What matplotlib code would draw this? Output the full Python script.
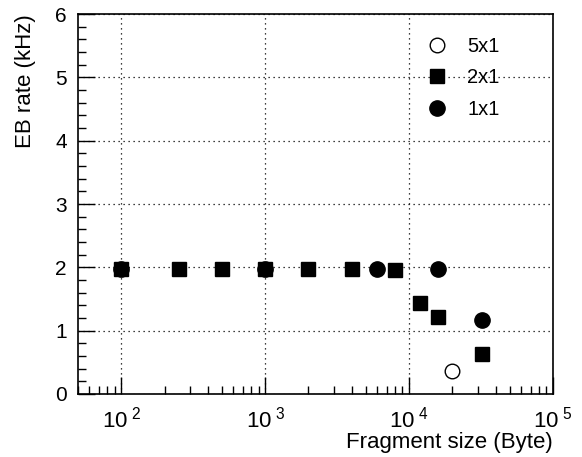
import matplotlib.pyplot as plt
import numpy as np
from matplotlib.ticker import LogLocator, MultipleLocator, NullFormatter

plt.rcParams['font.family'] = ['Liberation Sans', 'DejaVu Sans']
plt.rcParams['mathtext.fontset'] = 'custom'
plt.rcParams['mathtext.rm'] = 'Liberation Sans'
plt.rcParams['mathtext.it'] = 'Liberation Sans'

# fragment size (Byte) vs event building rate (kHz)
size_5x1 = [20000]
rate_5x1 = [0.37]

size_2x1 = [100, 250, 500, 1000, 2000, 4000, 8000, 12000, 16000, 32000]
rate_2x1 = [1.98, 1.98, 1.98, 1.98, 1.98, 1.98, 1.96, 1.44, 1.22, 0.63]

size_1x1 = [100, 1000, 6000, 16000, 32000]
rate_1x1 = [1.98, 1.98, 1.98, 1.98, 1.17]

fig = plt.figure(figsize=(5.82, 4.57), dpi=100)
ax = fig.add_axes([0.134, 0.138, 0.816, 0.831])

ax.plot(size_5x1, rate_5x1, 'o', mfc='white', mec='black', mew=1.0, ms=10.5,
        label='5x1', zorder=3)
ax.plot(size_2x1, rate_2x1, 's', color='black', ms=9.5, label='2x1', zorder=3)
ax.plot(size_1x1, rate_1x1, 'o', color='black', ms=11, label='1x1', zorder=4)

ax.set_xscale('log')
ax.set_xlim(50, 1e5)
ax.set_ylim(0, 6)

ax.xaxis.set_minor_locator(LogLocator(base=10, subs=np.arange(2, 10), numticks=10))
ax.xaxis.set_minor_formatter(NullFormatter())
ax.set_xticks([1e2, 1e3, 1e4, 1e5])
ax.set_xticklabels([r'$10^{\ 2}$', r'$10^{\ 3}$', r'$10^{\ 4}$', r'$10^{\ 5}$'])
ax.yaxis.set_major_locator(MultipleLocator(1))
ax.yaxis.set_minor_locator(MultipleLocator(0.2))

ax.tick_params(which='both', direction='in', top=False, right=False,
               width=1.0, color='black')
ax.tick_params(axis='x', which='major', length=12, pad=9, labelsize=16)
ax.tick_params(axis='x', which='minor', length=6)
ax.tick_params(axis='y', which='major', length=12, pad=8, labelsize=15)
ax.tick_params(axis='y', which='minor', length=6)

for s in ax.spines.values():
    s.set_linewidth(1.2)

ax.grid(True, which='major', linestyle=(0, (1, 3)), color='black', linewidth=0.9)

ax.set_xlabel('Fragment size (Byte)', fontsize=16, loc='right')
ax.xaxis.set_label_coords(1.0, -0.1)
ax.set_ylabel('EB rate (kHz)', fontsize=16, loc='top', labelpad=14)

ax.legend(loc='upper right', frameon=False, fontsize=14.5, handletextpad=1.0,
          labelspacing=0.62, borderaxespad=0.0, bbox_to_anchor=(0.905, 0.962),
          handlelength=1.0)

fig.savefig('out.png', dpi=100)
